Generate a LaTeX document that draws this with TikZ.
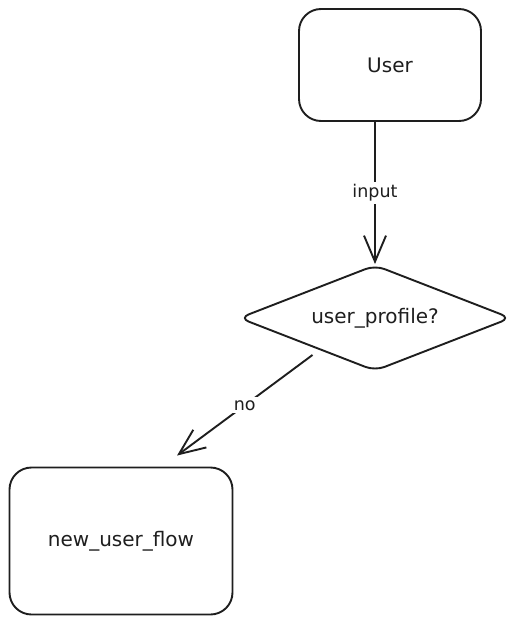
\documentclass[tikz,border=0pt]{standalone}
\usepackage{fontspec}
\setmainfont{DejaVu Sans}
\usetikzlibrary{
  shapes.geometric, arrows.meta, positioning
}
\usepackage{xcolor}
\definecolor{sketchink}{HTML}{1E1E1E}

\begin{document}
\begin{tikzpicture}[x=1pt, y=-1pt,
  box/.style={draw=sketchink, line width=1.9pt, rounded corners=22pt,
    text=sketchink, font=\fontsize{20}{24}\selectfont},
  decision/.style={diamond, draw=sketchink, line width=1.9pt, rounded corners=10pt,
    aspect=2.6, inner sep=0pt, text=sketchink, font=\fontsize{20}{24}\selectfont},
  flow/.style={draw=sketchink, line width=1.9pt, -{Straight Barb[length=26pt, width=22pt]}},
  edgelabel/.style={fill=white, inner sep=3pt, text=sketchink, font=\fontsize{17.5}{21}\selectfont}]
  \useasboundingbox (0,0) rectangle (523,623);

  % Nodes
  \node[box, minimum width=182pt, minimum height=112pt] (user) at (390,65) {User};
  \node[decision, minimum width=272pt, minimum height=106pt] (profile) at (375,318) {user\_profile?};
  \node[box, minimum width=223pt, minimum height=147pt] (newflow) at (121,541) {new\_user\_flow};

  % Arrows
  \draw[flow] (user.south -| profile.north) -- (profile.north)
    node[midway, edgelabel] {input};
  \draw[flow] ([shift={(6,10)}]profile.south west) -- ([shift={(56,-11)}]newflow.north)
    node[midway, edgelabel] {no};
\end{tikzpicture}
\end{document}
